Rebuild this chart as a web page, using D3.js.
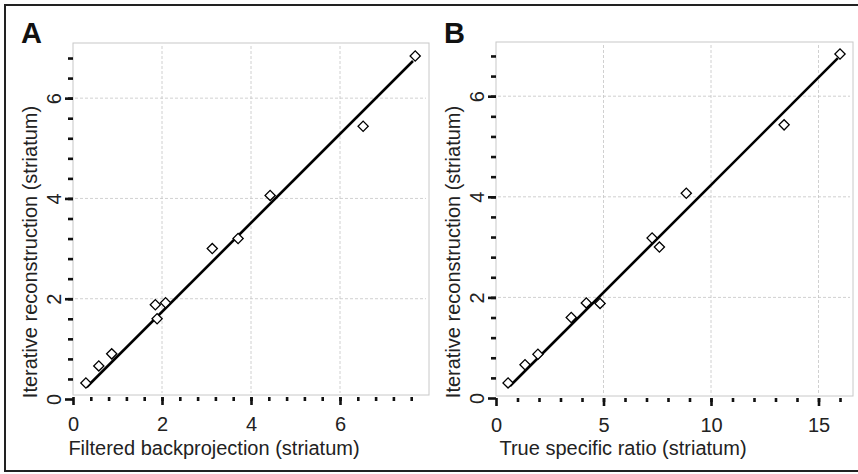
<!DOCTYPE html>
<html>
<head>
<meta charset="utf-8">
<script src="https://cdn.jsdelivr.net/npm/d3@7"></script>
<style>
  body { margin: 0; background: #fff; }
  svg { display: block; font-family: "Liberation Sans", Arial, sans-serif; }
</style>
</head>
<body>
<div id="chart"></div>
<script>
const width = 858;
const height = 474;

// panel A: filtered backprojection vs iterative reconstruction
const fbpA = [0.29, 0.58, 0.87, 1.85, 1.89, 2.08, 3.13, 3.71, 4.43, 6.52, 7.69];
const iterA = [0.32, 0.66, 0.90, 1.88, 1.60, 1.92, 3.00, 3.20, 4.06, 5.44, 6.84];
const fitA = { slope: 0.887, intercept: -0.035, from: 0.31, to: 7.64 };

// panel B: true specific ratio vs iterative reconstruction
const trueB = [0.56, 1.35, 1.95, 3.50, 4.20, 4.84, 7.26, 7.60, 8.85, 13.40, 16.00];
const iterB = [0.30, 0.66, 0.87, 1.60, 1.89, 1.88, 3.18, 3.00, 4.07, 5.43, 6.84];
const fitB = { slope: 0.4275, intercept: -0.04, from: 0.65, to: 15.9 };

const xTicksA = [0, 2, 4, 6];
const xTicksB = [0, 5, 10, 15];
const yTicks = [0, 2, 4, 6];

const svg = d3.select('#chart').append('svg')
    .attr('width', width)
    .attr('height', height);

// outer frame
svg.append('rect')
    .attr('x', 5)
    .attr('y', 5)
    .attr('width', 870)
    .attr('height', 466)
    .attr('fill', 'none')
    .attr('stroke', '#222')
    .attr('stroke-width', 2);

function drawPanel(p) {
    const x = d3.scaleLinear().domain(p.xDomain).range([p.left, p.right]);
    const y = d3.scaleLinear().domain(p.yDomain).range([p.zeroY, p.top]);
    const bottom = p.bottom;

    const g = svg.append('g');

    // grid
    g.selectAll('.vgrid').data(p.xTicks.filter(d => d > 0)).enter()
        .append('line')
        .attr('x1', d => x(d)).attr('x2', d => x(d))
        .attr('y1', p.top + 3).attr('y2', bottom - 2)
        .attr('stroke', '#c4c4c4')
        .attr('stroke-width', 0.8)
        .attr('stroke-dasharray', '3,2');
    g.selectAll('.hgrid').data(yTicks.filter(d => d > 0)).enter()
        .append('line')
        .attr('x1', p.left + 2).attr('x2', p.right - 3)
        .attr('y1', d => y(d)).attr('y2', d => y(d))
        .attr('stroke', '#c4c4c4')
        .attr('stroke-width', 0.8)
        .attr('stroke-dasharray', '3,2');

    // box
    g.append('rect')
        .attr('x', p.left)
        .attr('y', p.top)
        .attr('width', p.right - p.left)
        .attr('height', bottom - p.top)
        .attr('fill', 'none')
        .attr('stroke', '#c8c8c8')
        .attr('stroke-width', 1);

    // x axis: minor then major
    const xMinor = d3.axisBottom(x).tickValues(p.xMinor).tickSize(4).tickFormat('');
    const xMajor = d3.axisBottom(x).tickValues(p.xTicks).tickSize(8);
    const xg1 = g.append('g').attr('transform', `translate(0,${bottom + 2})`).call(xMinor);
    const xg2 = g.append('g').attr('transform', `translate(0,${bottom + 2})`).call(xMajor);
    [xg1, xg2].forEach(a => {
        a.select('.domain').remove();
        a.selectAll('line').attr('stroke', '#111').attr('stroke-width', 2.6);
    });
    xg2.selectAll('text')
        .attr('y', 34)
        .attr('dy', 0)
        .attr('fill', '#222')
        .style('font-size', '20px');

    // y axis: minor then major
    const yMinor = d3.axisLeft(y).tickValues(p.yMinor).tickSize(5).tickFormat('');
    const yMajor = d3.axisLeft(y).tickValues(yTicks).tickSize(8);
    const yg1 = g.append('g').attr('transform', `translate(${p.left},0)`).call(yMinor);
    const yg2 = g.append('g').attr('transform', `translate(${p.left},0)`).call(yMajor);
    [yg1, yg2].forEach(a => {
        a.select('.domain').remove();
        a.selectAll('line').attr('stroke', '#111').attr('stroke-width', 2.6);
    });
    yg2.selectAll('text')
        .attr('transform', 'rotate(-90)')
        .attr('x', 0)
        .attr('y', -12)
        .attr('dy', 0)
        .attr('text-anchor', 'middle')
        .attr('fill', '#222')
        .style('font-size', '20px');

    // fit line
    const line = d3.line().x(d => x(d)).y(d => y(p.fit.slope * d + p.fit.intercept));
    g.append('path')
        .datum([p.fit.from, p.fit.to])
        .attr('d', line)
        .attr('fill', 'none')
        .attr('stroke', '#000')
        .attr('stroke-width', 2.6);

    // points
    const sym = d3.symbol().type(d3.symbolSquare).size(52);
    g.selectAll('.pt').data(p.xs).enter()
        .append('path')
        .attr('d', sym)
        .attr('transform', (d, i) => `translate(${x(d)},${y(p.ys[i])}) rotate(45)`)
        .attr('fill', '#fff')
        .attr('stroke', '#000')
        .attr('stroke-width', 1.3);

    // titles
    g.append('text')
        .attr('x', p.xTitleX)
        .attr('y', 455)
        .attr('text-anchor', 'middle')
        .attr('fill', '#222')
        .style('font-size', '20px')
        .text(p.xTitle);

    g.append('text')
        .attr('transform', `translate(${p.left - 36},252) rotate(-90)`)
        .attr('text-anchor', 'middle')
        .attr('fill', '#222')
        .style('font-size', '20px')
        .text('Iterative reconstruction (striatum)');

    g.append('text')
        .attr('x', p.letterX)
        .attr('y', 43)
        .attr('fill', '#111')
        .style('font-size', '29px')
        .style('font-weight', 'bold')
        .text(p.letter);
}

function range(a, b, step) {
    return d3.range(Math.round(a / step), Math.round(b / step) + 1).map(i => +(i * step).toFixed(2));
}

drawPanel({
    letter: 'A', letterX: 21,
    left: 73, right: 429, top: 43, bottom: 395, zeroY: 399,
    xDomain: [0, 8], yDomain: [0, 7.1],
    xTicks: xTicksA, xMinor: range(0.4, 7.6, 0.4),
    yMinor: range(0.4, 6.8, 0.4),
    xs: fbpA, ys: iterA, fit: fitA,
    xTitle: 'Filtered backprojection (striatum)', xTitleX: 214
});

drawPanel({
    letter: 'B', letterX: 444,
    left: 496, right: 853, top: 42, bottom: 396, zeroY: 398,
    xDomain: [0, 357 / 21.5], yDomain: [0, 356 / 50.3],
    xTicks: xTicksB, xMinor: range(1, 16, 1),
    yMinor: range(0.4, 6.8, 0.4),
    xs: trueB, ys: iterB, fit: fitB,
    xTitle: 'True specific ratio (striatum)', xTitleX: 623
});
</script>
</body>
</html>
